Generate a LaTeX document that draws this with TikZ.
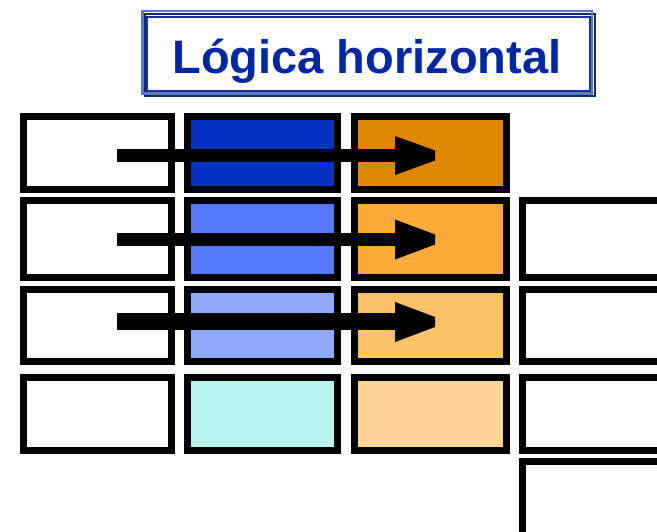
\documentclass[tikz,border=0pt]{standalone}
\usepackage{fontspec}
\setmainfont{Liberation Sans}
\usetikzlibrary{calc}

\definecolor{titleblue}{HTML}{0026A0}
\definecolor{framelight}{HTML}{5A78C8}
\definecolor{framedark}{HTML}{1A3296}
\definecolor{frameshadow}{HTML}{14286E}
\definecolor{blueA}{HTML}{0433C4}
\definecolor{blueB}{HTML}{5479FA}
\definecolor{blueC}{HTML}{8FA9FB}
\definecolor{aquaD}{HTML}{B8F5EF}
\definecolor{orangeA}{HTML}{E08600}
\definecolor{orangeB}{HTML}{FCAA38}
\definecolor{orangeC}{HTML}{FDC166}
\definecolor{orangeD}{HTML}{FDD596}

\tikzset{
  cell/.style={draw=black, line width=7pt, rectangle, inner sep=0pt, fill=white},
  colA/.style={minimum width=148pt},
  colB/.style={minimum width=150pt},
  colC/.style={minimum width=152pt},
  colD/.style={minimum width=150pt},
  shaft/.style={draw=black, line cap=butt},
  head/.style={fill=black, draw=none},
  titletext/.style={text=titleblue, font=\bfseries\fontsize{47}{52}\selectfont, inner sep=0pt, anchor=base},
}

\begin{document}
\begin{tikzpicture}[x=1pt, y=-1pt]
\useasboundingbox (0,0) rectangle (657,532);
\clip (0,0) rectangle (657,532);

% title frame: shadow, light outer line, dark inner line
\draw[frameshadow, line width=1.6pt] (145,14) rectangle (595,96);
\draw[framelight, line width=2.6pt] (142.5,11) rectangle (592,93.5);
\node[draw=framedark, line width=2pt, minimum width=443pt, minimum height=74pt, inner sep=0pt]
  (frame) at (368.3,53.7) {};
\node[titletext] (title) at (367,74) {Lógica horizontal};

% column 1 (plain cells)
\node[cell, colA, minimum height=73pt] (a1) at (97.5,153) {};
\node[cell, colA, minimum height=77pt] (a2) at (97.5,239) {};
\node[cell, colA, minimum height=72pt] (a3) at (97.5,325.5) {};
\node[cell, colA, minimum height=73pt] (a4) at (97.5,414) {};

% column 2 (blue shades)
\node[cell, colB, fill=blueA, minimum height=73pt] (b1) at (262.5,153) {};
\node[cell, colB, fill=blueB, minimum height=77pt] (b2) at (262.5,239) {};
\node[cell, colB, fill=blueC, minimum height=72pt] (b3) at (262.5,325.5) {};
\node[cell, colB, fill=aquaD, minimum height=73pt] (b4) at (262.5,414) {};

% column 3 (orange shades)
\node[cell, colC, fill=orangeA, minimum height=73pt] (c1) at (430.5,153) {};
\node[cell, colC, fill=orangeB, minimum height=77pt] (c2) at (430.5,239) {};
\node[cell, colC, fill=orangeC, minimum height=72pt] (c3) at (430.5,325.5) {};
\node[cell, colC, fill=orangeD, minimum height=73pt] (c4) at (430.5,414) {};

% column 4 (plain cells, cut by the right edge)
\node[cell, colD, minimum height=77pt] (d2) at (597.5,239) {};
\node[cell, colD, minimum height=72pt] (d3) at (597.5,325.5) {};
\node[cell, colD, minimum height=73pt] (d4) at (597.5,414) {};
\node[cell, colD, minimum height=75pt] (d5) at (597.5,499) {};

% arrow ends
\coordinate (s1) at (117,155.5);
\coordinate (h1) at (395,155.5);
\coordinate (e1) at (435,155.5);
\coordinate (s2) at (117,239.5);
\coordinate (h2) at (395,239.5);
\coordinate (e2) at (435,239.5);
\coordinate (s3) at (117,322);
\coordinate (h3) at (395,322);
\coordinate (e3) at (435,322);

% horizontal arrows across the rows, with blunt heads
\draw[shaft, line width=13pt] (s1) -- (h1);
\fill[head] ($(h1)+(0,-19.5)$) -- ($(e1)+(0,-5)$) -- ($(e1)+(0,5)$) -- ($(h1)+(0,19.5)$) -- cycle;
\draw[shaft, line width=13pt] (s2) -- (h2);
\fill[head] ($(h2)+(0,-20)$) -- ($(e2)+(0,-5)$) -- ($(e2)+(0,5)$) -- ($(h2)+(0,20)$) -- cycle;
\draw[shaft, line width=17pt] (s3) -- (h3);
\fill[head] ($(h3)+(0,-20)$) -- ($(e3)+(0,-5)$) -- ($(e3)+(0,5)$) -- ($(h3)+(0,20)$) -- cycle;
\end{tikzpicture}
\end{document}
